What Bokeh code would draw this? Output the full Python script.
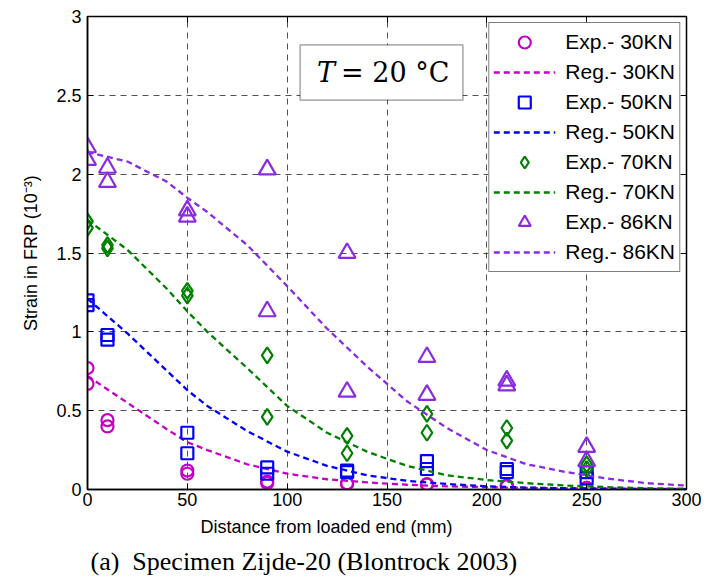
from bokeh.plotting import figure
from bokeh.models import Range1d, Legend, LegendItem, BoxAnnotation, Label, Title, LinearAxis, FixedTicker
from bokeh.embed import file_html
from bokeh.resources import INLINE

# ---------------- data ----------------
exp_x = [0, 0, 10, 10, 50, 50, 90, 90, 130, 130, 170, 170, 210, 210, 250, 250]

exp_30 = [0.77, 0.67, 0.44, 0.40, 0.12, 0.10, 0.05, 0.04, 0.04, 0.035, 0.035, 0.03, 0.025, 0.02, 0.01, 0.01]
exp_50 = [1.20, 1.17, 0.98, 0.95, 0.36, 0.23, 0.14, 0.10, 0.12, 0.11, 0.18, 0.13, 0.13, 0.11, 0.11, 0.07]
exp_70 = [1.70, 1.66, 1.55, 1.53, 1.26, 1.23, 0.85, 0.46, 0.34, 0.23, 0.48, 0.36, 0.39, 0.31, 0.16, 0.13]
exp_86 = [2.17, 2.09, 2.04, 1.95, 1.77, 1.73, 2.03, 1.13, 1.50, 0.62, 0.84, 0.60, 0.69, 0.66, 0.27, 0.18]

reg_x = [0, 20, 40, 50, 60, 80, 100, 120, 140, 160, 180, 200, 220, 240, 260, 280, 300]
reg_30 = [0.72, 0.55, 0.38, 0.30, 0.25, 0.16, 0.10, 0.065, 0.045, 0.03, 0.02, 0.015, 0.01, 0.007, 0.005, 0.004, 0.003]
reg_50 = [1.21, 0.99, 0.75, 0.63, 0.53, 0.37, 0.24, 0.15, 0.09, 0.055, 0.035, 0.02, 0.012, 0.008, 0.005, 0.003, 0.002]
reg_70 = [1.71, 1.52, 1.27, 1.13, 1.00, 0.77, 0.53, 0.36, 0.24, 0.15, 0.09, 0.06, 0.04, 0.025, 0.015, 0.008, 0.005]
reg_86 = [2.14, 2.08, 1.95, 1.85, 1.76, 1.55, 1.29, 1.02, 0.78, 0.56, 0.39, 0.25, 0.16, 0.11, 0.07, 0.04, 0.025]

loads = ["30KN", "50KN", "70KN", "86KN"]
x_ticks = [0, 50, 100, 150, 200, 250, 300]
y_ticks = [0, 0.5, 1, 1.5, 2, 2.5, 3]
y_tick_labels = ["0", "0.5", "1", "1.5", "2", "2.5", "3"]

colors = ["#C400C4", "#0000FF", "#008000", "#8A2BE2"]

# ---------------- figure ----------------
p = figure(width=707, height=586, output_backend="svg", toolbar_location=None,
           x_range=Range1d(0, 300), y_range=Range1d(0, 3),
           min_border_left=87, min_border_right=21, min_border_top=16, min_border_bottom=97)
p.background_fill_color = "white"
p.border_fill_color = "white"
p.outline_line_color = "black"
p.outline_line_width = 1.5

SANS = "Liberation Sans"

for ax in (p.xaxis[0], p.yaxis[0]):
    ax.axis_line_color = "black"
    ax.axis_line_width = 1.5
    ax.major_tick_in = 6
    ax.major_tick_out = 0
    ax.minor_tick_in = 0
    ax.minor_tick_out = 0
    ax.major_label_text_font = SANS
    ax.major_label_text_font_size = "18px"
    ax.major_label_text_color = "black"
    ax.axis_label_text_font = SANS
    ax.axis_label_text_font_size = "18px"
    ax.axis_label_text_font_style = "normal"
    ax.axis_label_text_color = "black"

p.xaxis.ticker = FixedTicker(ticks=x_ticks)
p.yaxis.ticker = FixedTicker(ticks=y_ticks)
p.yaxis.major_label_overrides = {t: s for t, s in zip(y_ticks, y_tick_labels)}
p.yaxis.axis_label = "Strain in FRP (10⁻³)"
p.xaxis.major_label_standoff = 3
p.yaxis.major_label_standoff = 6
p.yaxis.axis_label_standoff = 12

# box ticks on right/top (no labels)
ra = LinearAxis(ticker=FixedTicker(ticks=y_ticks),
                major_label_overrides={t: "" for t in y_ticks},
                major_tick_in=6, major_tick_out=0, minor_tick_in=0, minor_tick_out=0,
                axis_line_color="black", major_label_standoff=0)
ta = LinearAxis(ticker=FixedTicker(ticks=x_ticks),
                major_label_overrides={t: "" for t in x_ticks},
                major_tick_in=6, major_tick_out=0, minor_tick_in=0, minor_tick_out=0,
                axis_line_color="black", major_label_standoff=0)
p.add_layout(ra, "right")
p.add_layout(ta, "above")

for g in (p.xgrid[0], p.ygrid[0]):
    g.grid_line_color = "#333333"
    g.grid_line_alpha = 0.85
    g.grid_line_dash = "6 5"
    g.grid_line_width = 1

# ---------------- glyphs ----------------
exp_series = [exp_30, exp_50, exp_70, exp_86]
reg_series = [reg_30, reg_50, reg_70, reg_86]
markers = ["circle", "square", "diamond", "triangle"]
sizes = [12, 12, 16, 17]

items = []
for load, c, ex, rg, mk, sz in zip(loads, colors, exp_series, reg_series, markers, sizes):
    r_exp = p.scatter(exp_x, ex, marker=mk, size=sz, line_color=c, fill_color=None, line_width=2.2)
    r_reg = p.line(reg_x, rg, line_color=c, line_width=2.3, line_dash="6 4")
    items.append(LegendItem(label="Exp.- " + load, renderers=[r_exp]))
    items.append(LegendItem(label="Reg.- " + load, renderers=[r_reg]))

legend = Legend(items=items, location="top_right", margin=6, padding=4, spacing=0,
                glyph_width=62, glyph_height=30, label_height=30, label_standoff=10,
                label_text_font=SANS, label_text_font_size="21px", label_text_color="black",
                border_line_color="black", border_line_width=1.2,
                background_fill_color="white", background_fill_alpha=1)
p.add_layout(legend)

# ---------------- temperature box ----------------
box = BoxAnnotation(left=106.5, right=188, bottom=2.47, top=2.82,
                    fill_color="white", fill_alpha=1, line_color="black", line_width=1.8)
p.add_layout(box)
p.add_layout(Label(x=115, y=2.645, text="T", text_font="DejaVu Serif", text_font_style="italic",
                   text_font_size="27px", text_baseline="middle", text_color="black"))
p.add_layout(Label(x=127, y=2.645, text="= 20 °C", text_font="DejaVu Serif",
                   text_font_size="27px", text_baseline="middle", text_color="black"))

# ---------------- x label and caption ----------------
xlab = Title(text="Distance from loaded end (mm)", align="left", offset=113,
             text_font=SANS, text_font_size="18px", text_font_style="normal",
             text_color="black", standoff=13)
p.add_layout(xlab, "below")
cap = Title(text="(a)\u00a0 Specimen Zijde-20 (Blontrock 2003)", align="left", offset=3,
            text_font="Liberation Serif", text_font_size="26px", text_font_style="normal",
            text_color="black", standoff=2)
p.add_layout(cap, "below")

open("out.html", "w").write(file_html(p, INLINE))
